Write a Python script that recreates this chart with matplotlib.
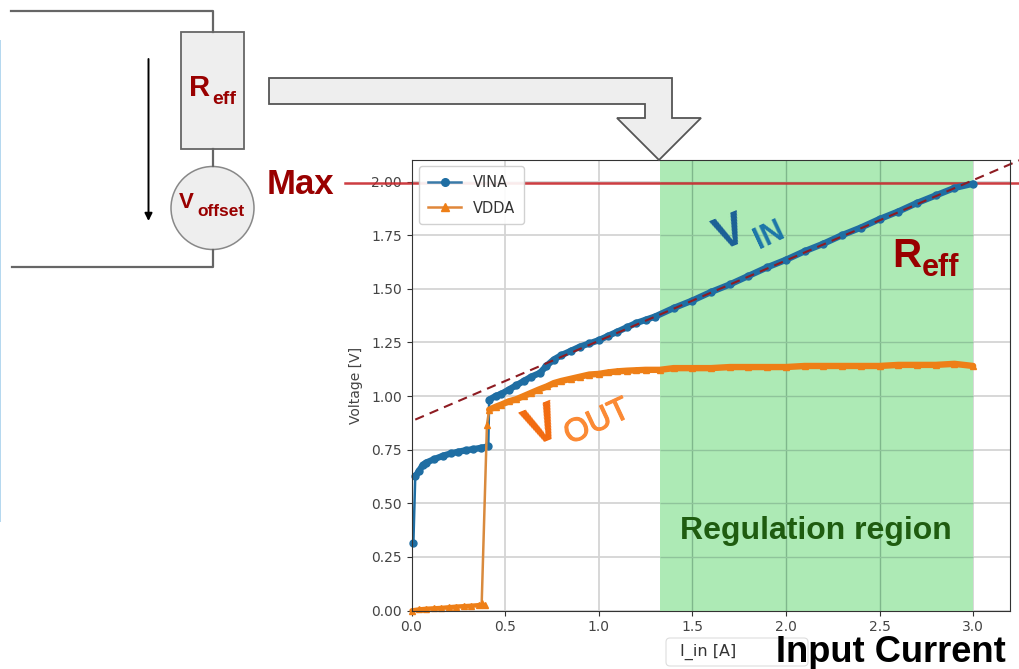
import matplotlib
matplotlib.use("Agg")
import matplotlib.pyplot as plt
import matplotlib.patheffects as pe
from matplotlib.patches import Polygon, Rectangle, Circle, FancyBboxPatch
from matplotlib.lines import Line2D

# ---------- data ----------
i_vina = [0.01, 0.02, 0.04, 0.06, 0.08, 0.12, 0.17, 0.21, 0.25, 0.29, 0.33, 0.37, 0.41,
          0.415, 0.45, 0.48, 0.52, 0.56, 0.60, 0.64, 0.687, 0.72, 0.76, 0.80, 0.85, 0.90, 0.95, 1.00, 1.05, 1.10, 1.15, 1.20, 1.25, 1.30,
          1.40, 1.50, 1.60, 1.70, 1.80, 1.90, 2.00, 2.10, 2.20, 2.30, 2.40, 2.50, 2.60, 2.70, 2.80, 2.90, 3.00]
v_vina = [0.315, 0.625, 0.65, 0.678, 0.69, 0.705, 0.722, 0.732, 0.74, 0.747, 0.752, 0.758, 0.765,
          0.983, 1.00, 1.01, 1.03, 1.05, 1.07, 1.09, 1.108, 1.14, 1.17, 1.19, 1.21, 1.23, 1.245, 1.26, 1.28, 1.30, 1.32, 1.34, 1.355, 1.37,
          1.41, 1.445, 1.485, 1.52, 1.56, 1.60, 1.635, 1.675, 1.71, 1.75, 1.785, 1.825, 1.86, 1.90, 1.935, 1.97, 1.99]
i_vdda = [0.00, 0.04, 0.08, 0.12, 0.16, 0.20, 0.24, 0.28, 0.32, 0.36, 0.39, 0.375, 0.403, 0.415, 0.45, 0.48, 0.52, 0.56, 0.60, 0.64, 0.68, 0.724, 0.76, 0.80,
          0.85, 0.90, 0.95, 1.00, 1.05, 1.10, 1.15, 1.20, 1.25, 1.327, 1.40, 1.50, 1.60, 1.70, 1.80, 1.90, 2.00, 2.10, 2.20, 2.30, 2.40, 2.50, 2.60, 2.70, 2.80, 2.90, 3.00]
v_vdda = [0.00, 0.005, 0.008, 0.01, 0.012, 0.015, 0.018, 0.02, 0.022, 0.025, 0.025, 0.035, 0.866, 0.936, 0.95, 0.96, 0.975, 0.985, 1.00, 1.015, 1.03, 1.045, 1.06, 1.07,
          1.08, 1.09, 1.10, 1.103, 1.11, 1.115, 1.118, 1.12, 1.122, 1.122, 1.13, 1.13, 1.13, 1.135, 1.135, 1.135, 1.135, 1.14, 1.14, 1.14, 1.14, 1.14, 1.145, 1.145, 1.145, 1.15, 1.14]
fit_i = [0.02, 3.25]
fit_v = [0.89, 2.10]
max_line_i = [-0.354, 3.25]
max_line_v = [1.992, 1.992]
region = [1.325, 3.0]
x_ticks = [0.0, 0.5, 1.0, 1.5, 2.0, 2.5, 3.0]
y_ticks = [0.0, 0.25, 0.5, 0.75, 1.0, 1.25, 1.5, 1.75, 2.0]

W, H = 1019, 669
C_VINA, C_VDDA, DRED = "#1f6ea3", "#ee7f17", "#990000"
SANS = "Liberation Sans"
TXT = "#444444"

fig = plt.figure(figsize=(W / 100, H / 100), dpi=100)
fig.patch.set_facecolor("white")
ax = fig.add_axes([411.5 / W, 1 - 610.5 / H, (1010 - 411.5) / W, (610.5 - 160.5) / H])
ax.set_xlim(0, 3.197)
ax.set_ylim(0, 2.098)
ax.set_xticks(x_ticks)
ax.set_yticks(y_ticks)
ax.set_yticklabels([f"{t:.2f}" for t in y_ticks])
ax.grid(True, color="#d4d4d4", lw=1.3, zorder=0)
ax.set_axisbelow(True)
ax.tick_params(labelsize=10, colors=TXT, color="#333333")
for s in ax.spines.values():
    s.set_color("#333333")
    s.set_zorder(10)
ax.set_ylabel("Voltage [V]", fontsize=10, color=TXT, labelpad=6)
ax.axvspan(region[0], region[1], color="#adeab5", lw=0, zorder=1)
# grid shows through the green block, darkened
ax.vlines([t for t in x_ticks if region[0] < t < region[1]], 0, ax.get_ylim()[1], color="#7fb78c", lw=1.0, zorder=1.5)
ax.hlines(y_ticks[1:], region[0], region[1], color="#8fc49b", lw=1.0, zorder=1.5)

# thin connecting traces and the measurement points
ax.plot(i_vina, v_vina, color=C_VINA, lw=1.8, marker="o", ms=5, zorder=3, clip_on=False)
ax.plot(i_vdda, v_vdda, color="#d98a3d", lw=1.8, marker="^", ms=4.5, mfc=C_VDDA, mec=C_VDDA, zorder=4, clip_on=False)
# the densely sampled stretches merge into a solid band
ax.plot(i_vina[1:13], v_vina[1:13], color=C_VINA, lw=4.6, zorder=3, solid_capstyle="round")
ax.plot(i_vina[13:], v_vina[13:], color=C_VINA, lw=4.6, zorder=3, solid_capstyle="round")
ax.plot(i_vdda[:11], v_vdda[:11], color=C_VDDA, lw=3.2, zorder=4, solid_capstyle="round", clip_on=False)
ax.plot(i_vdda[13:], v_vdda[13:], color=C_VDDA, lw=4.6, zorder=4, solid_capstyle="round")
ax.plot(max_line_i, max_line_v, color="#c8282d", lw=1.8, alpha=0.9, zorder=2.5, clip_on=False)
ax.plot(fit_i, fit_v, color="#8e1c22", lw=1.5, ls=(0, (4.5, 3)), zorder=5, clip_on=False)

handles = [Line2D([], [], color="#3a7aa8", lw=1.8, marker="o", ms=5.5, mfc=C_VINA, mec=C_VINA),
           Line2D([], [], color="#e0873a", lw=1.8, marker="^", ms=6, mfc=C_VDDA, mec=C_VDDA)]
leg = ax.legend(handles, ["VINA", "VDDA"], loc="upper left", fontsize=10.5, bbox_to_anchor=(0.0125, 0.988),
                borderaxespad=0, labelcolor="#333333", labelspacing=0.75, borderpad=0.6, handlelength=2.3, framealpha=0.9)
leg.set_zorder(6)

# ---------- overlay in pixel coordinates ----------
ov = fig.add_axes([0, 0, 1, 1], facecolor="none")
ov.set_xlim(0, W)
ov.set_ylim(H, 0)
ov.axis("off")
WIRE = "#666666"
GREY = "#eeeeee"
ov.add_patch(Rectangle((0, 40), 1.5, 482, color="#b5d8ef", lw=0))
ov.plot([11, 213, 213], [11, 11, 32], color=WIRE, lw=1.6)
ov.plot([213, 213], [149, 166], color=WIRE, lw=1.6)
ov.plot([213, 213, 12], [250, 267, 267], color=WIRE, lw=1.6)
ov.add_patch(Rectangle((181, 32), 63, 117, fc=GREY, ec=WIRE, lw=1.3))
ov.add_patch(Circle((212.5, 208), 41.5, fc=GREY, ec="#888888", lw=1.1))
ov.annotate("", xy=(148.5, 221), xytext=(148.5, 59),
            arrowprops=dict(arrowstyle="-|>", color="black", lw=1.4, mutation_scale=11, shrinkA=0, shrinkB=0))
ov.add_patch(Polygon([(269, 78), (672, 78), (672, 118), (701, 118), (659, 160), (617, 118), (645, 118), (645, 104), (269, 104)],
                     closed=True, fc=GREY, ec="#555555", lw=1.3))

def txt(x, y, s, size, color, rot=0, weight="bold", ha="left", thick=0):
    t = ov.text(x, y, s, fontsize=size, color=color, fontweight=weight, family=SANS, rotation=rot,
                ha=ha, va="center", rotation_mode="anchor")
    if thick:
        t.set_path_effects([pe.withStroke(linewidth=thick, foreground=color)])

txt(189, 88, "R", 21, DRED)
txt(212, 99, "eff", 14, DRED)
txt(179, 203, "V", 16, DRED)
txt(197, 212, "offset", 12.5, DRED)
txt(267, 184, "Max", 25, DRED)
txt(892, 256, "R", 29, DRED)
txt(922, 268, "eff", 22, DRED)
txt(716, 240, "V", 33, "#1a5f96", rot=22)
txt(756, 242, "IN", 22, "#1c76a8", rot=25)
txt(526, 434, "V", 38, "#f26a0f", rot=22)
txt(566, 437, "OUT", 23.5, "#fb8a35", rot=25, weight="normal", thick=0.8)
txt(680, 531, "Regulation region", 23, "#1f5c10")
ov.add_patch(FancyBboxPatch((666, 638), 142, 28, boxstyle="round,pad=0,rounding_size=4", fc="white", ec="#dddddd", lw=0.8, zorder=1))
ov.text(680, 652, "I_in [A]", fontsize=11.5, color="#333333", va="center", family="DejaVu Sans")
txt(776, 652, "Input Current", 26.1, "black")

fig.savefig("out.png", dpi=100)
